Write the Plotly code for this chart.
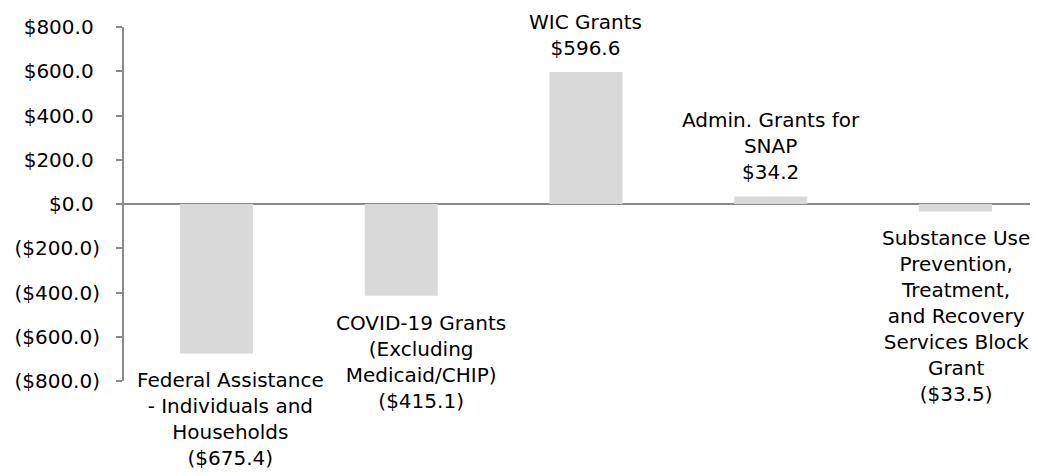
import plotly.graph_objects as go

categories = [
    "Federal Assistance - Individuals and Households",
    "COVID-19 Grants (Excluding Medicaid/CHIP)",
    "WIC Grants",
    "Admin. Grants for SNAP",
    "Substance Use Prevention, Treatment, and Recovery Services Block Grant",
]
values = [-675.4, -415.1, 596.6, 34.2, -33.5]
label_lines = [
    "Federal Assistance<br>- Individuals and<br>Households",
    "COVID-19 Grants<br>(Excluding<br>Medicaid/CHIP)",
    "WIC Grants",
    "Admin. Grants for<br>SNAP",
    "Substance Use<br>Prevention,<br>Treatment,<br>and Recovery<br>Services Block<br>Grant",
]
label_xshift = [14, 20, 0, 0, 0]
tick_vals = [-800, -600, -400, -200, 0, 200, 400, 600, 800]

FONT = "DejaVu Sans"
SIZE = 20
AXIS_GRAY = "#8a8a8a"


def money(v, pad=False):
    if v < 0:
        return f"(${abs(v):,.1f})"
    return f"${v:,.1f}" + ("\u2008" if pad else "")


tick_text = [money(v, pad=True) for v in tick_vals]

fig = go.Figure()
fig.add_trace(go.Bar(
    x=categories,
    y=values,
    width=0.395,
    marker=dict(color="#d9d9d9", line=dict(width=0)),
    hoverinfo="x+y",
))

for cat, v, txt, dx in zip(categories, values, label_lines, label_xshift):
    fig.add_annotation(
        x=cat, y=v, xref="x", yref="y",
        text=f"{txt}<br>{money(v)}",
        showarrow=False,
        yanchor="bottom" if v > 0 else "top",
        yshift=10 if v > 0 else -13,
        xshift=dx,
        align="center",
        font=dict(family=FONT, size=SIZE, color="#000000"),
    )

# page body has an 8px margin, so the figure is sized a little smaller
fig.update_layout(
    width=1030,
    height=468,
    margin=dict(l=116, r=0, t=19, b=95, autoexpand=False),
    plot_bgcolor="white",
    paper_bgcolor="white",
    showlegend=False,
    font=dict(family=FONT, size=SIZE, color="#000000"),
    xaxis=dict(
        range=[-0.5, 4.446],
        showticklabels=False,
        showgrid=False,
        showline=False,
        zeroline=False,
        ticks="",
        automargin=False,
    ),
    yaxis=dict(
        range=[-800, 800],
        tickvals=tick_vals,
        ticktext=tick_text,
        showgrid=False,
        zeroline=True,
        zerolinecolor=AXIS_GRAY,
        zerolinewidth=2,
        showline=True,
        linecolor=AXIS_GRAY,
        linewidth=2,
        ticks="outside",
        ticklen=6,
        tickcolor=AXIS_GRAY,
        tickwidth=2,
        ticklabelstandoff=12,
        automargin=False,
        tickfont=dict(family=FONT, size=SIZE, color="#000000"),
    ),
)

fig.write_html("out.html")
